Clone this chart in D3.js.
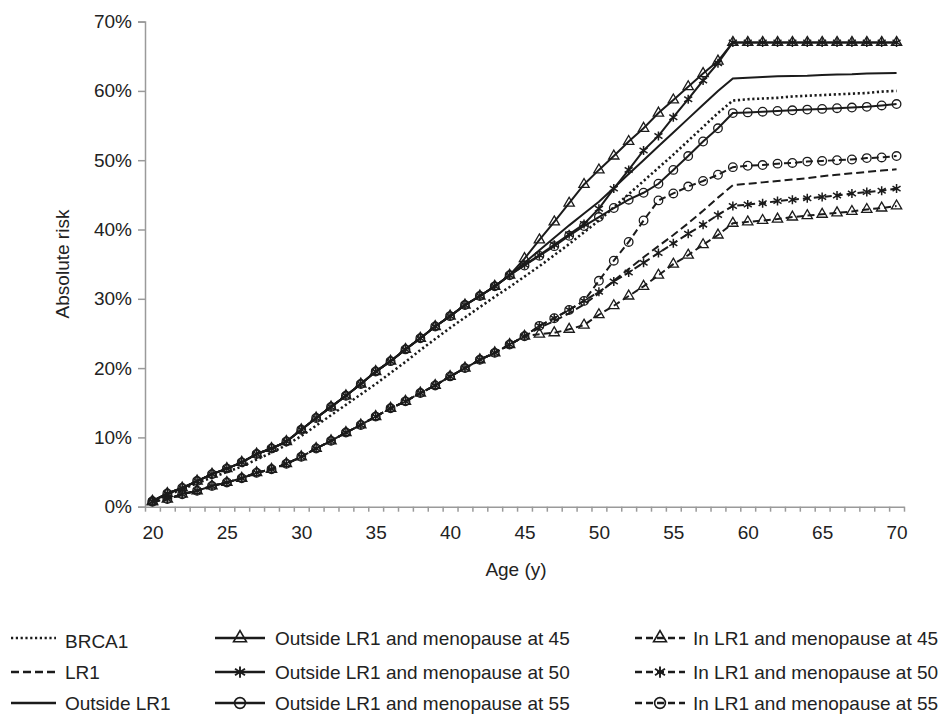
<!DOCTYPE html>
<html>
<head>
<meta charset="utf-8">
<script src="https://cdn.jsdelivr.net/npm/d3@7"></script>
<style>
  body { margin: 0; background: #fff; font-family: "Liberation Sans", Arial, sans-serif; }
  .axis path, .axis line { stroke: #9a9a9a; stroke-width: 1.5; }
  .axis text { fill: #222; font-size: 19px; font-family: "Liberation Sans", Arial, sans-serif; }
</style>
</head>
<body>
<svg id="chart" width="947" height="716"></svg>
<script>
// ages on the x axis (categories)
var ages = d3.range(20, 71)
var xLabels = [20, 25, 30, 35, 40, 45, 50, 55, 60, 65, 70]
var yTicks = [0, 0.1, 0.2, 0.3, 0.4, 0.5, 0.6, 0.7]

// shared parts of the curves (%)
var upperBase = [0.8, 1.9, 2.7, 3.7, 4.7, 5.5, 6.4, 7.6, 8.4, 9.4, 11.1, 12.8, 14.4, 16.0, 17.7, 19.5, 21.0, 22.7, 24.3, 26.0, 27.5, 29.1, 30.4, 31.8, 33.4] // 20-44
var lowerBase = [0.7, 1.1, 1.8, 2.3, 3.0, 3.5, 4.1, 4.9, 5.4, 6.2, 7.2, 8.4, 9.5, 10.7, 11.8, 13.0, 14.2, 15.2, 16.4, 17.5, 18.8, 20.0, 21.2, 22.2, 23.4, 24.6] // 20-45

var brca1 = [0.8, 1.7, 2.5, 3.4, 4.2, 5.0, 5.8, 6.8, 7.8, 8.9,
  10.2, 11.7, 13.2, 14.7, 16.2, 17.7, 19.3, 20.9, 22.6, 24.2,
  25.8, 27.3, 28.8, 30.3, 31.7, 33.2, 34.7, 36.3, 37.9, 39.6,
  41.3, 43.2, 45.1, 47.0, 48.9, 50.8, 52.8, 54.8, 56.8, 58.6,
  58.8, 58.9, 59.0, 59.2, 59.3, 59.4, 59.5, 59.6, 59.7, 59.9, 60.0]
var lr1 = lowerBase.concat([25.8, 26.8, 27.9, 29.2, 30.8, 32.6, 34.3, 36.0, 37.6, 39.2, 40.9, 42.7, 44.6, 46.4,
  46.6, 46.8, 47.0, 47.2, 47.4, 47.7, 47.9, 48.1, 48.3, 48.5, 48.7])
var outsideLR1 = upperBase.concat([35.2, 37.0, 38.8, 40.6, 42.3, 44.0, 46.0, 48.0, 50.0, 52.0, 54.0, 56.0, 58.0, 60.0, 61.8,
  61.9, 62.0, 62.1, 62.15, 62.2, 62.3, 62.35, 62.4, 62.5, 62.55, 62.6])
var out45 = upperBase.concat([35.8, 38.5, 41.1, 43.8, 46.5, 48.6, 50.6, 52.7, 54.6, 56.8, 58.7, 60.6, 62.5, 64.3, 67.0,
  67.0, 67.0, 67.0, 67.0, 67.0, 67.0, 67.0, 67.0, 67.0, 67.0, 67.0])
var out50 = upperBase.concat([34.9, 36.3, 37.8, 39.3, 40.8, 43.0, 45.9, 48.6, 51.4, 53.5, 56.2, 58.8, 61.5, 64.0, 67.0,
  67.0, 67.0, 67.0, 67.0, 67.0, 67.0, 67.0, 67.0, 67.0, 67.0, 67.0])
var out55 = upperBase.concat([34.8, 36.2, 37.6, 39.1, 40.5, 41.8, 43.1, 44.3, 45.3, 46.6, 48.6, 50.6, 52.7, 54.6, 56.8,
  56.9, 57.0, 57.1, 57.2, 57.3, 57.4, 57.5, 57.6, 57.7, 57.9, 58.1])
var in45 = lowerBase.concat([24.9, 25.1, 25.6, 26.2, 27.7, 29.0, 30.4, 31.8, 33.4, 35.0, 36.3, 37.8, 39.2, 40.9,
  41.1, 41.3, 41.5, 41.8, 42.0, 42.2, 42.4, 42.6, 42.9, 43.1, 43.4])
var in50 = lowerBase.concat([26.1, 27.2, 28.4, 29.7, 31.0, 32.5, 33.8, 35.2, 36.6, 38.0, 39.4, 40.7, 42.1, 43.4,
  43.6, 43.8, 44.1, 44.3, 44.5, 44.7, 44.9, 45.2, 45.4, 45.6, 45.9])
var in55 = lowerBase.concat([26.1, 27.2, 28.4, 29.7, 32.6, 35.5, 38.2, 41.3, 44.2, 45.2, 46.2, 47.0, 47.9, 49.0,
  49.2, 49.3, 49.5, 49.6, 49.8, 49.9, 50.0, 50.1, 50.3, 50.4, 50.6])

var DOT = '2.2,2.6', DASH = '8,4'
var series = [
  {name: 'BRCA1', values: brca1, dash: DOT, marker: null, col: 0, row: 0},
  {name: 'LR1', values: lr1, dash: DASH, marker: null, col: 0, row: 1},
  {name: 'Outside LR1', values: outsideLR1, dash: null, marker: null, col: 0, row: 2},
  {name: 'Outside LR1 and menopause at 45', values: out45, dash: null, marker: 'tri', col: 1, row: 0},
  {name: 'Outside LR1 and menopause at 50', values: out50, dash: null, marker: 'star', col: 1, row: 1},
  {name: 'Outside LR1 and menopause at 55', values: out55, dash: null, marker: 'circle', col: 1, row: 2},
  {name: 'In LR1 and menopause at 45', values: in45, dash: '7,4', marker: 'tri', col: 2, row: 0},
  {name: 'In LR1 and menopause at 50', values: in50, dash: '7,4', marker: 'star', col: 2, row: 1},
  {name: 'In LR1 and menopause at 55', values: in55, dash: '7,4', marker: 'circle', col: 2, row: 2}
]

var svg = d3.select('#chart')
var ink = '#1b1b1b'

var x = d3.scaleLinear().domain([19.5, 70.5]).range([145, 904])
var y = d3.scaleLinear().domain([0, 0.7]).range([506.7, 21.6])

// axes
svg.append('g').attr('class', 'axis')
  .attr('transform', 'translate(145,0)')
  .call(d3.axisLeft(y).tickValues(yTicks).tickSize(7).tickPadding(6).tickFormat(d3.format('.0%')))

svg.append('g').attr('class', 'axis')
  .attr('transform', 'translate(0,506.7)')
  .call(d3.axisBottom(x).tickValues(d3.range(19.5, 71, 1)).tickSize(5).tickSizeOuter(0).tickFormat(''))

svg.append('g').attr('class', 'axis xl')
  .attr('transform', 'translate(0,506.7)')
  .call(d3.axisBottom(x).tickValues(xLabels).tickSize(0).tickPadding(19).tickFormat(d3.format('d')))
  .call(function(g){ g.select('.domain').remove() })

svg.append('text').attr('x', 516).attr('y', 576)
  .attr('text-anchor', 'middle').attr('font-size', 19).attr('fill', '#222')
  .text('Age (y)')

svg.append('text').attr('transform', 'translate(69,264) rotate(-90)')
  .attr('text-anchor', 'middle').attr('font-size', 19).attr('fill', '#222')
  .text('Absolute risk')

// markers
function drawMarker(g, type, cx, cy, k){
  k = k || 1
  if (type == 'tri') {
    g.append('path').attr('d', d3.symbol(d3.symbolTriangle, 46 * k * k)())
      .attr('transform', 'translate(' + cx + ',' + cy + ')')
      .attr('fill', 'none').attr('stroke', ink).attr('stroke-width', 1.3 * k)
  } else if (type == 'circle') {
    g.append('circle').attr('cx', cx).attr('cy', cy).attr('r', 4.3 * k)
      .attr('fill', 'none').attr('stroke', ink).attr('stroke-width', 1.3 * k)
  } else if (type == 'star') {
    g.append('path').attr('d', 'M0,-4.5V4.5M-4,-2.6L4,2.6M-4,2.6L4,-2.6')
      .attr('transform', 'translate(' + cx + ',' + cy + ') scale(' + k + ')')
      .attr('fill', 'none').attr('stroke', ink).attr('stroke-width', 1.5)
  }
}

var line = d3.line().x(function(d, i){ return x(ages[i]) }).y(function(d){ return y(d / 100) })

series.forEach(function(s){
  var g = svg.append('g')
  g.append('path').attr('d', line(s.values))
    .attr('fill', 'none').attr('stroke', ink)
    .attr('stroke-width', s.dash == DOT ? 2.6 : 2)
    .attr('stroke-dasharray', s.dash)
  if (s.marker) s.values.forEach(function(v, i){ drawMarker(g, s.marker, x(ages[i]), y(v / 100)) })
})

// legend
var colLine = [[11, 56], [215, 265], [635, 685]]
var colText = [65, 275, 693]
var rowY = [638, 672, 703]

series.forEach(function(s){
  var g = svg.append('g')
  var ly = rowY[s.row], lx = colLine[s.col]
  g.append('line').attr('x1', lx[0]).attr('x2', lx[1]).attr('y1', ly).attr('y2', ly)
    .attr('stroke', ink).attr('stroke-width', s.dash == DOT ? 2.6 : 2.4)
    .attr('stroke-dasharray', s.dash)
  if (s.marker) drawMarker(g, s.marker, (lx[0] + lx[1]) / 2, ly, 1.25)
  // BRCA1 label sits a little lower than its line in the original
  g.append('text').attr('x', colText[s.col]).attr('y', ly + 6.8 + (s.name == 'BRCA1' ? 3 : 0))
    .attr('font-size', 19).attr('fill', '#222').text(s.name)
})
</script>
</body>
</html>
